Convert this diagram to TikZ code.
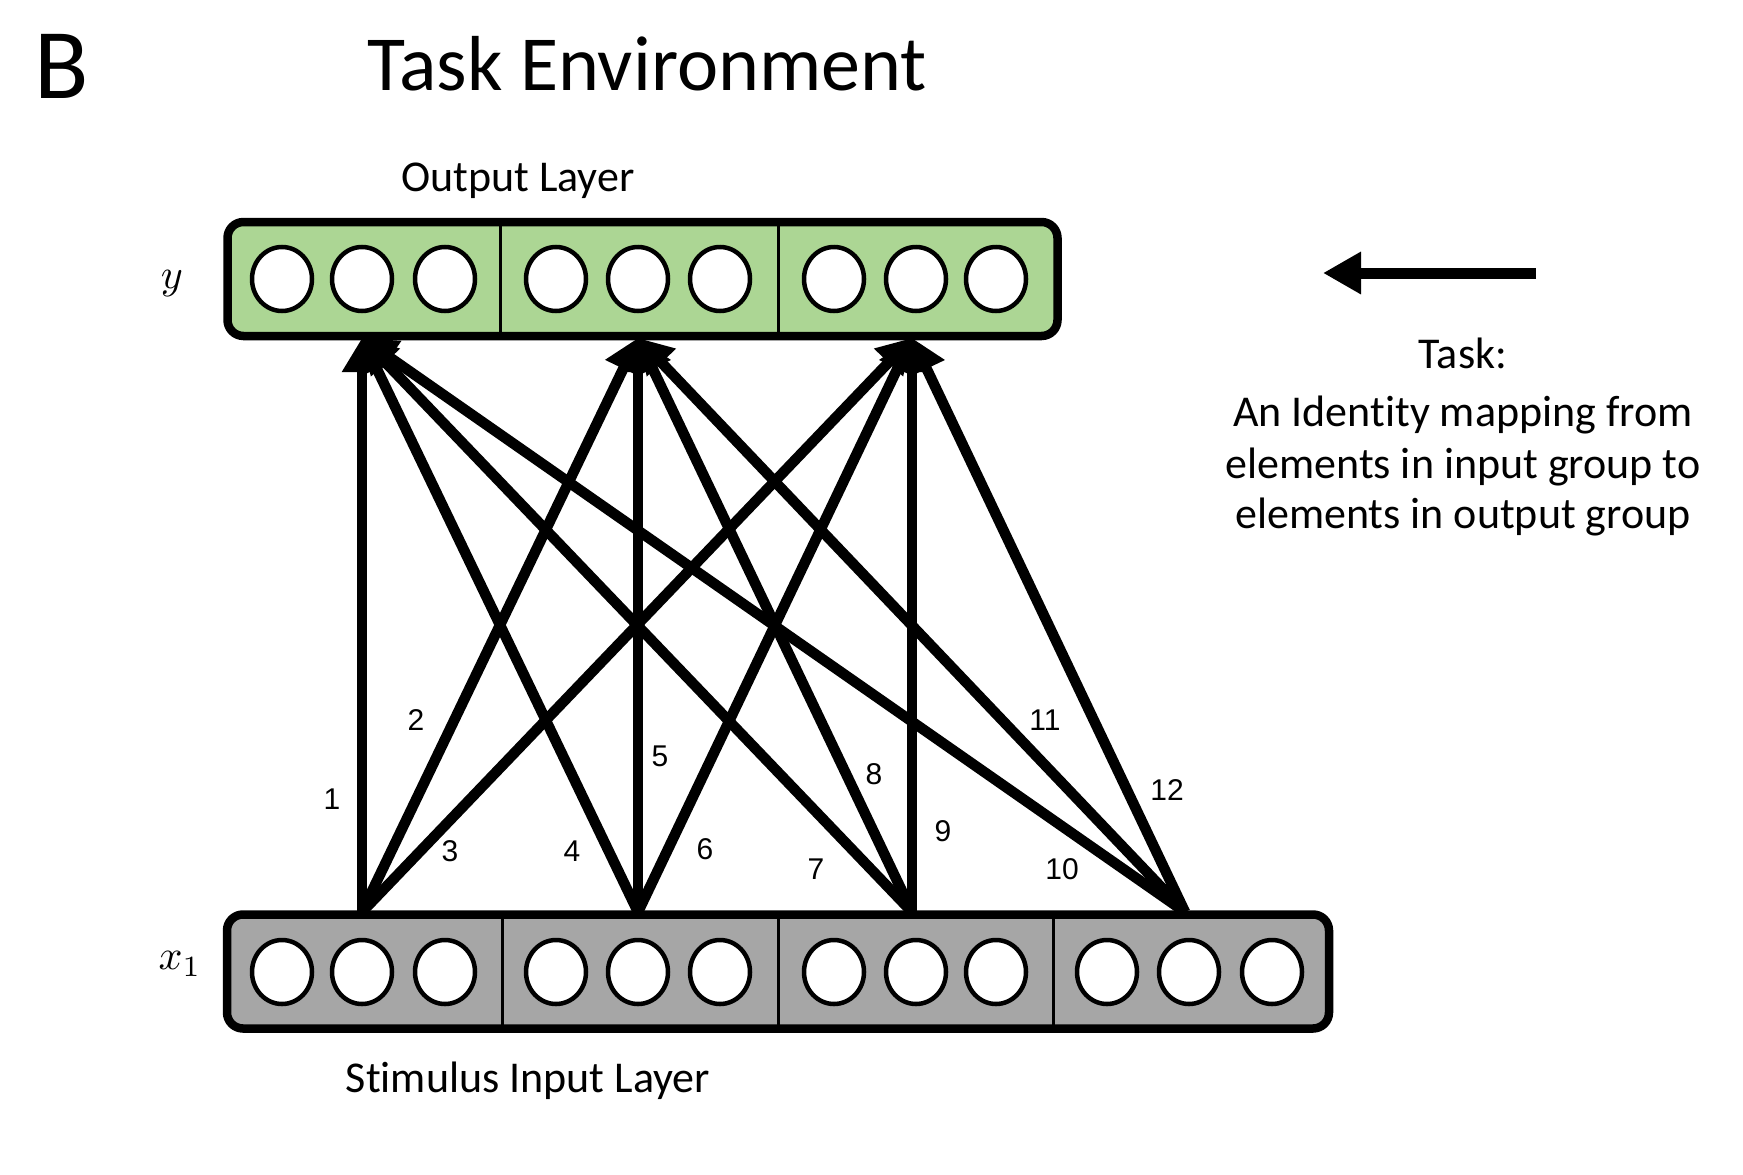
\documentclass[tikz,border=0pt]{standalone}
\usepackage{fontspec}
\setmainfont{Carlito}[Ligatures={NoCommon}]
\newfontfamily\arialf{Liberation Sans}
\usetikzlibrary{arrows.meta,shapes.geometric}
\definecolor{outgreen}{RGB}{172,214,148}
\definecolor{ingray}{RGB}{166,166,166}
\begin{document}
\begin{tikzpicture}[x=1pt,y=-1pt,
  layerbox/.style={draw=black,line width=8.5pt,rounded corners=16pt,inner sep=0pt},
  unit/.style={ellipse,draw=black,line width=4.5pt,fill=white,minimum width=60pt,minimum height=64pt,inner sep=0pt},
  divider/.style={draw=black,line width=3pt},
  conn/.style={draw=black,line width=10.5pt,-{Triangle[length=34pt,width=38pt]}},
  bigarrow/.style={draw=black,line width=11pt,-{Triangle[length=38pt,width=40pt]}},
  numlab/.style={font=\arialf\fontsize{30}{36}\selectfont,inner sep=0pt},
  txt/.style={font=\fontsize{44}{53}\selectfont,anchor=base,inner sep=0pt}]
\useasboundingbox (0,0) rectangle (1743,1175);

% titles
\node[anchor=base west,inner sep=0pt,font=\fontsize{100}{120}\selectfont] (B) at (34,98) {B};
\node[anchor=base,inner sep=0pt,font=\fontsize{78}{92}\selectfont] (title) at (647,90) {Task Environment};
\node[txt] (outlab) at (518,191) {Output Layer};
\node[txt] (inlab) at (528,1092) {Stimulus Input Layer};

% layers
\node[layerbox,fill=outgreen,minimum width=830pt,minimum height=114pt] (out) at (642.5,279) {};
\node[layerbox,fill=ingray,minimum width=1102pt,minimum height=114pt] (in) at (778,971.5) {};
\draw[divider] (500,222) -- (500,335);
\draw[divider] (778,222) -- (778,335);
\draw[divider] (502,915) -- (502,1028);
\draw[divider] (778,915) -- (778,1028);
\draw[divider] (1053,915) -- (1053,1028);

\foreach \x [count=\i] in {282,362,445,556,638,720,834,916,996}
  \node[unit] (o\i) at (\x,279) {};
\foreach \x [count=\i] in {282,362,445,556,638,720,834,916,996,1107,1189,1272}
  \node[unit] (u\i) at (\x,972) {};

\node[inner sep=0pt] (ylab) at (172,284) {\scalebox{4.2}{$y$}};
\node[inner sep=0pt] (xlab) at (180,964) {\scalebox{4.2}{$x_1$}};

% connections
\coordinate (s1) at (362,912);
\coordinate (s2) at (638,912);
\coordinate (s3) at (912,912);
\coordinate (s4) at (1185,912);
\coordinate (t1) at (362,338);
\coordinate (t2) at (638,338);
\coordinate (t3) at (912,338);
\foreach \s in {1,2,3,4}
  \foreach \t in {1,2,3}
    \draw[conn] (s\s) -- (t\t);

\node[numlab] (l1) at (332,799) {1};
\node[numlab] (l2) at (416,720) {2};
\node[numlab] (l3) at (450,851) {3};
\node[numlab] (l4) at (572,851) {4};
\node[numlab] (l5) at (660,756) {5};
\node[numlab] (l6) at (705,849) {6};
\node[numlab] (l7) at (816,869) {7};
\node[numlab] (l8) at (874,774) {8};
\node[numlab] (l9) at (943,831) {9};
\node[numlab] (l10) at (1062,869) {10};
\node[numlab] (l11) at (1045,720) {11};
\node[numlab] (l12) at (1167,790) {12};

% task arrow and text
\coordinate (ta) at (1536,273);
\coordinate (tb) at (1323,273);
\draw[bigarrow] (ta) -- (tb);
\node[txt] (task1) at (1463,368) {Task:};
\node[txt] (task2) at (1463,426) {An Identity mapping from};
\node[txt] (task3) at (1463,478) {elements in input group to};
\node[txt] (task4) at (1463,528) {elements in output group};
\end{tikzpicture}
\end{document}
